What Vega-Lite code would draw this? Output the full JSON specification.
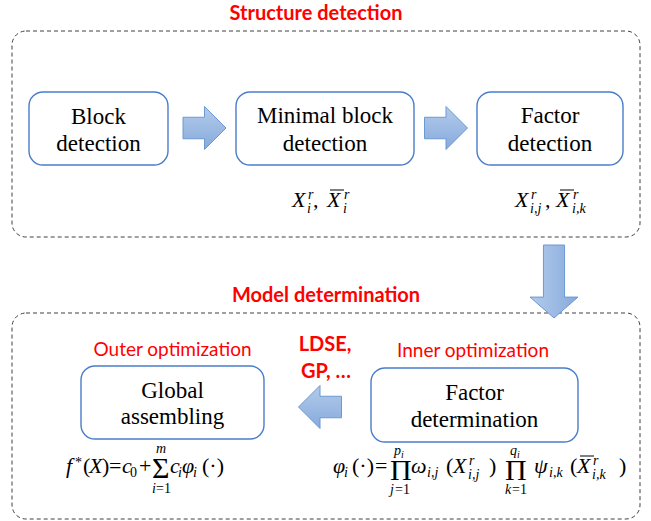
{
  "$schema": "https://vega.github.io/schema/vega-lite/v6.json",
  "width": 651,
  "height": 521,
  "autosize": {"type": "fit", "contains": "padding"},
  "padding": 0,
  "config": {"view": {"stroke": null}},
  "data": {"values": [
    {"g": "frame", "x": 12, "x2": 640, "y": 31, "y2": 237},
    {"g": "frame", "x": 12, "x2": 640, "y": 313, "y2": 519},
    {"g": "box", "x": 29, "x2": 168, "y": 92, "y2": 165},
    {"g": "box", "x": 236, "x2": 414, "y": 92, "y2": 165},
    {"g": "box", "x": 477, "x2": 623, "y": 92, "y2": 165},
    {"g": "box", "x": 81, "x2": 264, "y": 366, "y2": 439},
    {"g": "box", "x": 371, "x2": 578, "y": 368, "y2": 442},
    {"g": "arrowR", "x": 204.5, "y": 128},
    {"g": "arrowR", "x": 446, "y": 128},
    {"g": "arrowL", "x": 320, "y": 407},
    {"g": "arrowD", "x": 554, "y": 281.5},
    {"g": "label", "t": "Block", "x": 98.5, "y": 117},
    {"g": "label", "t": "detection", "x": 98.5, "y": 144},
    {"g": "label", "t": "Minimal block", "x": 325, "y": 116},
    {"g": "label", "t": "detection", "x": 325, "y": 144},
    {"g": "label", "t": "Factor", "x": 550, "y": 116},
    {"g": "label", "t": "detection", "x": 550, "y": 144},
    {"g": "label", "t": "Global", "x": 172.5, "y": 391},
    {"g": "label", "t": "assembling", "x": 172.5, "y": 417},
    {"g": "label", "t": "Factor", "x": 474.5, "y": 393},
    {"g": "label", "t": "determination", "x": 474.5, "y": 420},
    {"g": "redB", "t": "Structure detection", "x": 316, "y": 14},
    {"g": "redB", "t": "Model determination", "x": 326, "y": 296},
    {"g": "redB", "t": "LDSE,", "x": 325, "y": 345},
    {"g": "redB", "t": "GP, …", "x": 326, "y": 372},
    {"g": "redN", "t": "Outer optimization", "x": 172.5, "y": 350},
    {"g": "redN", "t": "Inner optimization", "x": 473, "y": 351},
    {"g": "bar", "x": 330, "x2": 344, "y": 190},
    {"g": "bar", "x": 560, "x2": 574, "y": 190},
    {"g": "bar", "x": 580, "x2": 594, "y": 456},

    {"g": "m", "t": "X", "x": 292, "y": 207},
    {"g": "s", "t": "r", "x": 308, "y": 199},
    {"g": "s", "t": "i", "x": 307, "y": 213},
    {"g": "mu", "t": ",", "x": 313, "y": 207},
    {"g": "m", "t": "X", "x": 327, "y": 207},
    {"g": "s", "t": "r", "x": 344, "y": 199},
    {"g": "s", "t": "i", "x": 343, "y": 213},

    {"g": "m", "t": "X", "x": 515, "y": 207},
    {"g": "s", "t": "r", "x": 531, "y": 199},
    {"g": "s", "t": "i,j", "x": 530, "y": 213},
    {"g": "mu", "t": ",", "x": 545, "y": 207},
    {"g": "m", "t": "X", "x": 556, "y": 207},
    {"g": "s", "t": "r", "x": 573, "y": 199},
    {"g": "s", "t": "i,k", "x": 572, "y": 213},

    {"g": "m", "t": "f", "x": 66, "y": 473},
    {"g": "su", "t": "*", "x": 75, "y": 467},
    {"g": "mu", "t": "(", "x": 83, "y": 473},
    {"g": "m", "t": "X", "x": 89, "y": 473},
    {"g": "mu", "t": ")", "x": 102, "y": 473},
    {"g": "mu", "t": "=", "x": 109, "y": 473},
    {"g": "m", "t": "c", "x": 122, "y": 473},
    {"g": "su", "t": "0", "x": 130, "y": 477},
    {"g": "mu", "t": "+", "x": 139, "y": 473},
    {"g": "op", "t": "Σ", "x": 152, "y": 478},
    {"g": "s", "t": "m", "x": 156, "y": 453},
    {"g": "s", "t": "i", "x": 152, "y": 493},
    {"g": "su", "t": "=1", "x": 156, "y": 493},
    {"g": "m", "t": "c", "x": 170, "y": 473},
    {"g": "s", "t": "i", "x": 178, "y": 477},
    {"g": "m", "t": "φ", "x": 182, "y": 473},
    {"g": "s", "t": "i", "x": 193, "y": 477},
    {"g": "mu", "t": "(·)", "x": 202, "y": 473},

    {"g": "m", "t": "φ", "x": 333, "y": 473},
    {"g": "s", "t": "i", "x": 344, "y": 477},
    {"g": "mu", "t": "(·)", "x": 352, "y": 473},
    {"g": "mu", "t": "=", "x": 375, "y": 473},
    {"g": "op", "t": "Π", "x": 390, "y": 480},
    {"g": "s", "t": "p", "x": 394, "y": 455},
    {"g": "t", "t": "i", "x": 401, "y": 458},
    {"g": "s", "t": "j", "x": 390, "y": 494},
    {"g": "su", "t": "=1", "x": 395, "y": 494},
    {"g": "m", "t": "ω", "x": 411, "y": 473},
    {"g": "s", "t": "i,j", "x": 427, "y": 477},
    {"g": "mu", "t": "(", "x": 446, "y": 473},
    {"g": "m", "t": "X", "x": 453, "y": 473},
    {"g": "s", "t": "r", "x": 469, "y": 465},
    {"g": "s", "t": "i,j", "x": 468, "y": 479},
    {"g": "mu", "t": ")", "x": 489, "y": 473},
    {"g": "op", "t": "Π", "x": 505, "y": 480},
    {"g": "s", "t": "q", "x": 510, "y": 455},
    {"g": "t", "t": "i", "x": 517, "y": 458},
    {"g": "s", "t": "k", "x": 505, "y": 494},
    {"g": "su", "t": "=1", "x": 512, "y": 494},
    {"g": "m", "t": "ψ", "x": 534, "y": 473},
    {"g": "s", "t": "i,k", "x": 549, "y": 477},
    {"g": "mu", "t": "(", "x": 570, "y": 473},
    {"g": "m", "t": "X", "x": 577, "y": 473},
    {"g": "s", "t": "r", "x": 593, "y": 465},
    {"g": "s", "t": "i,k", "x": 592, "y": 479},
    {"g": "mu", "t": ")", "x": 619, "y": 473}
  ]},
  "encoding": {
    "x": {"field": "x", "type": "quantitative", "scale": {"domain": [0, 651], "nice": false, "zero": false}, "axis": null},
    "y": {"field": "y", "type": "quantitative", "scale": {"domain": [0, 521], "nice": false, "zero": false, "reverse": true}, "axis": null}
  },
  "layer": [
    {
      "transform": [{"filter": "datum.g === 'frame'"}],
      "mark": {"type": "rect", "fill": "white", "fillOpacity": 0, "stroke": "#404040", "strokeWidth": 1, "strokeDash": [4, 3], "cornerRadius": 14},
      "encoding": {"x2": {"field": "x2"}, "y2": {"field": "y2"}}
    },
    {
      "transform": [{"filter": "datum.g === 'box'"}],
      "mark": {"type": "rect", "fill": "white", "stroke": "#4A7DC9", "strokeWidth": 1.4, "cornerRadius": 14},
      "encoding": {"x2": {"field": "x2"}, "y2": {"field": "y2"}}
    },
    {
      "transform": [{"filter": "datum.g === 'arrowR'"}],
      "mark": {"type": "point", "shape": "M-1,-0.5L0,-0.5L0,-1L1,0L0,1L0,0.5L-1,0.5Z", "size": 1849, "filled": true, "opacity": 1,
        "fill": {"gradient": "linear", "x1": 0, "y1": 0, "x2": 0, "y2": 1, "stops": [{"offset": 0, "color": "#B3CBEB"}, {"offset": 1, "color": "#86AADC"}]},
        "stroke": "#6C98D3", "strokeWidth": 1}
    },
    {
      "transform": [{"filter": "datum.g === 'arrowL'"}],
      "mark": {"type": "point", "shape": "M1,-0.5L0,-0.5L0,-1L-1,0L0,1L0,0.5L1,0.5Z", "size": 1849, "filled": true, "opacity": 1,
        "fill": {"gradient": "linear", "x1": 0, "y1": 0, "x2": 0, "y2": 1, "stops": [{"offset": 0, "color": "#B3CBEB"}, {"offset": 1, "color": "#86AADC"}]},
        "stroke": "#6C98D3", "strokeWidth": 1}
    },
    {
      "transform": [{"filter": "datum.g === 'arrowD'"}],
      "mark": {"type": "point", "shape": "M-0.44,-1.52L0.44,-1.52L0.44,0.65L1,0.65L0,1.52L-1,0.65L-0.44,0.65Z", "size": 2304, "filled": true, "opacity": 1,
        "fill": {"gradient": "linear", "x1": 0, "y1": 0, "x2": 1, "y2": 0, "stops": [{"offset": 0, "color": "#B3CBEB"}, {"offset": 1, "color": "#86AADC"}]},
        "stroke": "#6C98D3", "strokeWidth": 1}
    },
    {
      "transform": [{"filter": "datum.g === 'bar'"}],
      "mark": {"type": "rule", "color": "black", "strokeWidth": 1},
      "encoding": {"x2": {"field": "x2"}}
    },
    {
      "transform": [{"filter": "datum.g === 'label'"}],
      "mark": {"type": "text", "font": "'Liberation Serif'", "fontSize": 23},
      "encoding": {"text": {"field": "t"}}
    },
    {
      "transform": [{"filter": "datum.g === 'redB'"}],
      "mark": {"type": "text", "font": "Lato", "fontWeight": "bold", "fontSize": 20, "fill": "#FF0000"},
      "encoding": {"text": {"field": "t"}}
    },
    {
      "transform": [{"filter": "datum.g === 'redN'"}],
      "mark": {"type": "text", "font": "Lato", "fontSize": 19, "fill": "#FF0000"},
      "encoding": {"text": {"field": "t"}}
    },
    {
      "transform": [{"filter": "datum.g === 'm'"}],
      "mark": {"type": "text", "font": "'Liberation Serif'", "fontStyle": "italic", "fontSize": 22, "align": "left", "dy": -7},
      "encoding": {"text": {"field": "t"}}
    },
    {
      "transform": [{"filter": "datum.g === 'mu'"}],
      "mark": {"type": "text", "font": "'Liberation Serif'", "fontSize": 22, "align": "left", "dy": -7},
      "encoding": {"text": {"field": "t"}}
    },
    {
      "transform": [{"filter": "datum.g === 's'"}],
      "mark": {"type": "text", "font": "'Liberation Serif'", "fontStyle": "italic", "fontSize": 14, "align": "left", "dy": -4},
      "encoding": {"text": {"field": "t"}}
    },
    {
      "transform": [{"filter": "datum.g === 'su'"}],
      "mark": {"type": "text", "font": "'Liberation Serif'", "fontSize": 14, "align": "left", "dy": -4},
      "encoding": {"text": {"field": "t"}}
    },
    {
      "transform": [{"filter": "datum.g === 't'"}],
      "mark": {"type": "text", "font": "'Liberation Serif'", "fontStyle": "italic", "fontSize": 10, "align": "left", "dy": -3},
      "encoding": {"text": {"field": "t"}}
    },
    {
      "transform": [{"filter": "datum.g === 'op'"}],
      "mark": {"type": "text", "font": "'Liberation Serif'", "fontSize": 30, "align": "left", "dy": -9},
      "encoding": {"text": {"field": "t"}}
    }
  ]
}
